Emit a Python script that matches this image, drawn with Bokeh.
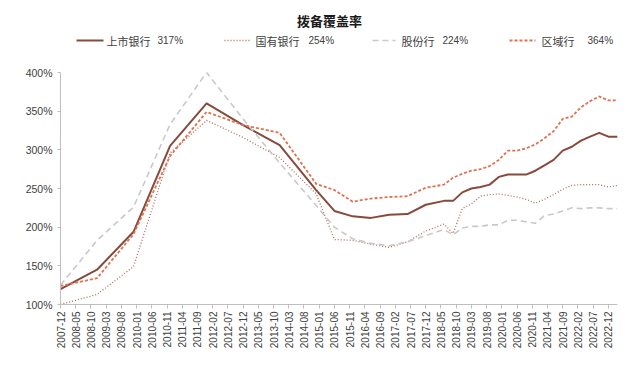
import math
from bokeh.plotting import figure
from bokeh.layouts import column
from bokeh.models import Range1d, FixedTicker, PrintfTickFormatter
from bokeh.core.properties import value
from bokeh.embed import file_html
from bokeh.resources import INLINE

# ---------------- data ----------------
dates = ["2007-12", "2008-12", "2009-12", "2010-12", "2011-12", "2012-12", "2013-12", "2014-12",
         "2015-06", "2015-12", "2016-06", "2016-12", "2017-06", "2017-12", "2018-06",
         "2018-09", "2018-12", "2019-03", "2019-06", "2019-09", "2019-12", "2020-03", "2020-06",
         "2020-09", "2020-12", "2021-03", "2021-06", "2021-09", "2021-12", "2022-03", "2022-06",
         "2022-09", "2022-12", "2023-03"]

listed_banks = [120, 145, 194, 305, 360, 332, 306, 248,
                221, 214, 212, 216, 217, 229, 234,
                234, 245, 250, 252, 255, 265, 268, 268,
                268, 273, 280, 287, 299, 304, 312, 317,
                322, 317, 317]

state_banks = [100, 113, 149, 296, 338, 316, 290, 243,
               184, 183, 178, 174, 181, 195, 204,
               192, 224, 230, 240, 242, 243, 241, 239,
               236, 231, 236, 242, 249, 254, 255, 255,
               255, 252, 254]

joint_stock_banks = [125, 183, 226, 333, 400, 340, 283, 228,
                     200, 185, 179, 176, 181, 189, 197,
                     190, 199, 201, 201, 203, 203, 209, 209,
                     207, 205, 215, 217, 221, 225, 224, 225,
                     225, 224, 224]

regional_banks = [124, 134, 191, 292, 349, 332, 322, 256,
                  248, 233, 237, 239, 240, 251, 255,
                  264, 269, 273, 275, 279, 287, 299, 299,
                  302, 307, 315, 324, 340, 343, 355, 363,
                  369, 364, 364]

tick_labels = ["2007-12", "2008-05", "2008-10", "2009-03", "2009-08", "2010-01", "2010-06",
               "2010-11", "2011-04", "2011-09", "2012-02", "2012-07", "2012-12", "2013-05",
               "2013-10", "2014-03", "2014-08", "2015-01", "2015-06", "2015-11", "2016-04",
               "2016-09", "2017-02", "2017-07", "2017-12", "2018-05", "2018-10", "2019-03",
               "2019-08", "2020-01", "2020-06", "2020-11", "2021-04", "2021-09", "2022-02",
               "2022-07", "2022-12"]

y_ticks = [100, 150, 200, 250, 300, 350, 400]

title_text = "拨备覆盖率"
legend_names = ["上市银行", "国有银行", "股份行", "区域行"]
legend_values = ["317%", "254%", "224%", "364%"]
x_end_date = "2023-03"


def month_index(s):
    y, m = s.split("-")
    return (int(y) - 2007) * 12 + int(m) - 12


xs = [month_index(d) for d in dates]

# ---------------- styles ----------------
styles = [
    dict(color="#874a3b", width=2.0, dash="solid"),
    dict(color="#b06a5a", width=1.3, dash="1 2"),
    dict(color="#c9c9c9", width=1.6, dash="6 4"),
    dict(color="#e0704e", width=1.8, dash="3 2"),
]
series = [listed_banks, state_banks, joint_stock_banks, regional_banks]

LABEL_COLOR = "#404040"
AXIS_COLOR = "#bfbfbf"

W, H = 640, 373
BL, BR = 60, 23          # left / right borders shared by both figures
FRAME_R = W - BR         # canvas x of the frame's right edge

# ---------------- header (title + legend) ----------------
HH = 64
header = figure(width=W, height=HH, x_range=Range1d(BL, FRAME_R), y_range=Range1d(0, HH),
                output_backend="svg", toolbar_location=None,
                x_axis_type=None, y_axis_type=None,
                min_border_left=BL, min_border_right=BR, min_border_top=0, min_border_bottom=0)
header.outline_line_color = None
header.grid.visible = False

header.text(x=[329], y=[44.5], text=[title_text], text_font=value("Noto Sans CJK SC"),
            text_font_size="13px", text_font_style="bold", text_color="#1a1a1a",
            text_align="center", text_baseline="middle")

legend_line_x = [(76, 103), (224, 250), (372, 395), (509, 535)]
legend_name_x = [106, 255, 401, 541]
legend_value_x = [157, 308, 442, 587]
ly = 24
for i in range(4):
    st = styles[i]
    header.line(x=list(legend_line_x[i]), y=[ly, ly], line_color=st["color"],
                line_width=st["width"], line_dash=st["dash"])
    header.text(x=[legend_name_x[i]], y=[ly], text=[legend_names[i]],
                text_font=value("Noto Sans CJK SC"), text_font_size="11px",
                text_color=LABEL_COLOR, text_align="left", text_baseline="middle")
    header.text(x=[legend_value_x[i]], y=[ly], text=[legend_values[i]],
                text_font=value("Liberation Sans"), text_font_size="10px",
                text_color=LABEL_COLOR, text_align="left", text_baseline="middle")

# ---------------- main chart ----------------
p = figure(width=W, height=H - HH, x_range=Range1d(0, month_index(x_end_date)),
           y_range=Range1d(100, 400), output_backend="svg", toolbar_location=None,
           min_border_left=BL, min_border_right=BR, min_border_top=8, min_border_bottom=69)
p.outline_line_color = None
p.grid.visible = False

for vals, st in zip(series, styles):
    p.line(x=xs, y=vals, line_color=st["color"], line_width=st["width"],
           line_dash=st["dash"], line_join="round")

tick_pos = [month_index(t) for t in tick_labels]
p.xaxis.ticker = FixedTicker(ticks=tick_pos)
p.xaxis.major_label_overrides = {t: lab for t, lab in zip(tick_pos, tick_labels)}
p.xaxis.major_label_orientation = math.pi / 2
p.xaxis.minor_tick_line_color = None
p.xaxis.major_tick_in = 0
p.xaxis.major_tick_out = 4
p.xaxis.major_label_standoff = 3

p.yaxis.ticker = FixedTicker(ticks=y_ticks)
p.yaxis.formatter = PrintfTickFormatter(format="%d%%")
p.yaxis.minor_tick_line_color = None
p.yaxis.major_tick_in = 0
p.yaxis.major_tick_out = 3
p.yaxis.major_label_standoff = 5

for ax in (p.xaxis, p.yaxis):
    ax.axis_line_color = AXIS_COLOR
    ax.major_tick_line_color = AXIS_COLOR
    ax.major_label_text_color = LABEL_COLOR
    ax.major_label_text_font = "Liberation Sans"
p.xaxis.major_label_text_font_size = "10px"
p.yaxis.major_label_text_font_size = "10.5px"

layout = column(header, p, spacing=0)
open("out.html", "w").write(file_html(layout, INLINE))
